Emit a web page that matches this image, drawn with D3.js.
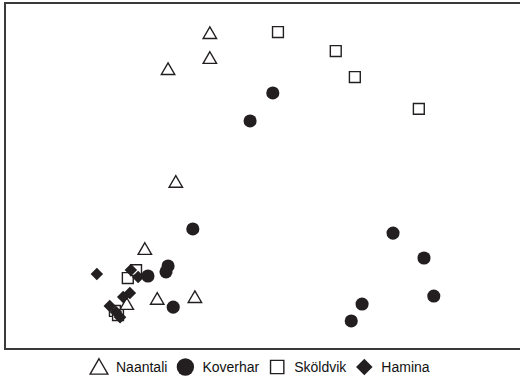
<!DOCTYPE html>
<meta charset="utf-8">
<style>
body, html {
  padding: 0;
  margin: 0;
  background: #fff;
}
svg {
  display: block;
}
.legend text {
  font: 14px "Liberation Sans", Arial, sans-serif;
  fill: #111;
}
</style>
<body>
<script src="https://d3js.org/d3.v7.min.js"></script>
<script>

var width = 520,
    height = 378

// ordination scores (arbitrary 0-100 units)
var naantaliX = [39.7, 39.7, 31.6, 33.1, 27.1, 29.5, 36.8, 23.6]
var naantaliY = [91.3, 84.1, 80.9, 48.3, 28.9, 14.5, 15.0, 13.0]

var koverharX = [51.9, 47.5, 36.4, 31.6, 31.2, 27.7, 32.6, 75.2, 81.2, 83.1, 69.2, 67.1]
var koverharY = [74.0, 65.9, 34.7, 24.0, 22.3, 21.1, 12.1, 33.5, 26.3, 15.3, 13.0, 8.1]

var skoldvikX = [52.9, 64.1, 67.8, 80.2, 23.8, 25.4, 21.3, 21.9]
var skoldvikY = [91.6, 86.1, 78.6, 69.4, 20.5, 22.8, 11.0, 9.8]

var haminaX = [17.8, 24.4, 25.8, 24.2, 22.9, 20.3, 21.5, 22.3]
var haminaY = [21.7, 22.8, 20.8, 16.2, 15.0, 12.4, 10.7, 9.2]

var sites = ["Naantali", "Koverhar", "Sköldvik", "Hamina"]

var box = {left: 5, top: 3, right: 522, bottom: 349}

var x = d3.scaleLinear().domain([0, 100]).range([box.left, box.left + 516])
var y = d3.scaleLinear().domain([0, 100]).range([box.bottom, box.bottom - 346])

var styles = {
  "Naantali": {type: d3.symbolTriangle, size: 78, fill: "#fff", rotate: 0},
  "Koverhar": {type: d3.symbolCircle, size: 135, fill: "#231f20", rotate: 0},
  "Sköldvik": {type: d3.symbolSquare, size: 118, fill: "#fff", rotate: 0},
  "Hamina": {type: d3.symbolSquare, size: 78, fill: "#231f20", rotate: 45}
}

function zip(xs, ys) {
  return xs.map(function (v, i) { return [v, ys[i]] })
}

var series = [
  {name: "Naantali", points: zip(naantaliX, naantaliY)},
  {name: "Koverhar", points: zip(koverharX, koverharY)},
  {name: "Sköldvik", points: zip(skoldvikX, skoldvikY)},
  {name: "Hamina", points: zip(haminaX, haminaY)}
]

var svg = d3.select("body").append("svg")
    .attr("width", width)
    .attr("height", height)

svg.append("rect")
    .attr("x", box.left)
    .attr("y", box.top)
    .attr("width", box.right - box.left)
    .attr("height", box.bottom - box.top)
    .attr("fill", "#fff")
    .attr("stroke", "#3a3a3a")
    .attr("stroke-width", 2)

function symbolPath(name, k) {
  var s = styles[name]
  return d3.symbol().type(s.type).size(s.size * (k || 1))()
}

function shapeTransform(name, px, py) {
  var s = styles[name]
  var t = "translate(" + px + "," + py + ")"
  if (s.rotate) t += " rotate(" + s.rotate + ")"
  return t
}

function applyStyle(sel, name) {
  var s = styles[name]
  sel.attr("fill", s.fill)
    .attr("stroke", s.fill === "#fff" ? "#231f20" : "none")
    .attr("stroke-width", 1.4)
}

var groups = svg.selectAll("g.series")
    .data(series)
    .enter().append("g")
    .attr("class", "series")

groups.each(function (d) {
  d3.select(this).selectAll("path")
      .data(d.points)
      .enter().append("path")
      .attr("d", symbolPath(d.name))
      .attr("transform", function (p) {
        var dy = d.name === "Naantali" ? 1.5 : 0
        return shapeTransform(d.name, x(p[0]), y(p[1]) + dy)
      })
      .call(applyStyle, d.name)
})

// legend
var legend = svg.append("g").attr("class", "legend")
var lx = 0
sites.forEach(function (name) {
  var g = legend.append("g")
  g.append("path")
      .attr("d", symbolPath(name, name === "Sköldvik" ? 1.5 : 1.75))
      .attr("transform", shapeTransform(name, 8, name === "Naantali" ? 2 : 0))
      .call(applyStyle, name)
  var t = g.append("text")
      .attr("x", 25)
      .attr("y", 5)
      .text(name)
  var w = 25 + t.node().getComputedTextLength()
  g.attr("transform", "translate(" + lx + ",0)")
  lx += w + 10
})
lx -= 10
legend.attr("transform", "translate(" + Math.round((width - lx) / 2) + ",367)")

</script>
</body>
